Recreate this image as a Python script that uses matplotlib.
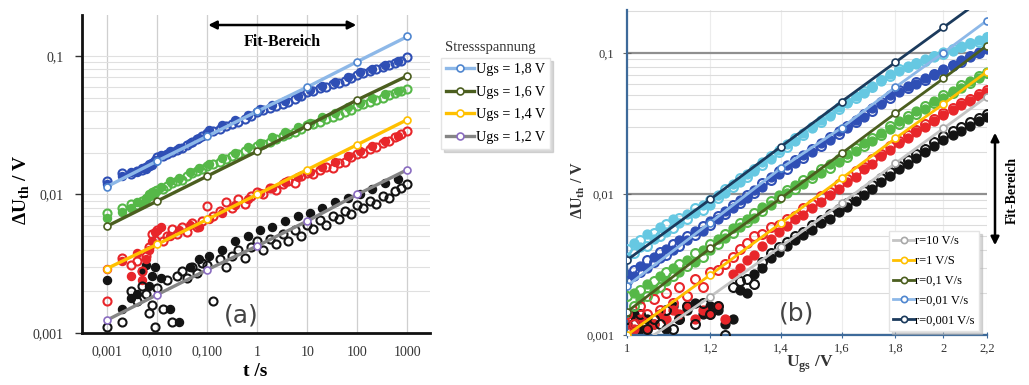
import matplotlib
matplotlib.use("Agg")
import matplotlib.pyplot as plt
from matplotlib.lines import Line2D
from matplotlib.patches import FancyArrowPatch
from matplotlib.ticker import FixedLocator, NullFormatter, LogLocator

plt.rcParams["font.family"] = ["Liberation Serif", "DejaVu Serif"]
plt.rcParams["mathtext.fontset"] = "custom"
plt.rcParams["mathtext.rm"] = "Liberation Serif"
plt.rcParams["mathtext.bf"] = "Liberation Serif:bold"

# ---------------- panel (a): dU_th vs stress time ----------------
T_FIT = [0.001, 0.01, 0.1, 1, 10, 100, 1000]
FIT_A = {
    "1,8": [0.0114, 0.0174, 0.0263, 0.0398, 0.0596, 0.091, 0.138],
    "1,6": [0.0059, 0.00895, 0.01355, 0.0205, 0.0313, 0.0482, 0.0718],
    "1,4": [0.00292, 0.00436, 0.0066, 0.0100, 0.0151, 0.0229, 0.0347],
    "1,2": [0.00124, 0.00189, 0.00286, 0.00425, 0.00643, 0.0100, 0.0151],
}

T_OPEN = [0.001, 0.002, 0.003, 0.004, 0.005, 0.006, 0.007, 0.008, 0.009,
          0.01, 0.013, 0.016, 0.02, 0.025, 0.032, 0.04, 0.05, 0.063, 0.08,
          0.1, 0.13, 0.18, 0.24, 0.32, 0.42, 0.56, 0.75,
          1, 1.3, 1.8, 2.4, 3.2, 4.2, 5.6, 7.5,
          10, 13, 18, 24, 32, 42, 56, 75,
          100, 130, 180, 240, 320, 420, 560, 750, 1000]
OPEN_18 = [0.0125, 0.0142, 0.0140, 0.0148, 0.0150, 0.0158, 0.0160, 0.0168, 0.0175,
           0.0186, 0.0190, 0.0196, 0.0203, 0.0208, 0.0215, 0.0226, 0.0238, 0.0250, 0.0262,
           0.0278, 0.0285, 0.0296, 0.0310, 0.0322, 0.0335, 0.0350, 0.0368,
           0.0395, 0.0405, 0.0418, 0.0435, 0.0452, 0.0468, 0.0488, 0.0512,
           0.0552, 0.0560, 0.0582, 0.0600, 0.0622, 0.0640, 0.0662, 0.0690,
           0.0730, 0.0752, 0.0778, 0.0800, 0.0832, 0.0858, 0.0890, 0.0925, 0.0980]
OPEN_16 = [0.0074, 0.0080, 0.0086, 0.0084, 0.0090, 0.0093, 0.0097, 0.0099, 0.0106,
           0.0108, 0.0110, 0.0116, 0.0120, 0.0125, 0.0128, 0.0136, 0.0142, 0.0148, 0.0152,
           0.0160, 0.0166, 0.0172, 0.0180, 0.0188, 0.0195, 0.0205, 0.0212,
           0.0225, 0.0232, 0.0240, 0.0250, 0.0262, 0.0272, 0.0282, 0.0296,
           0.0318, 0.0322, 0.0335, 0.0348, 0.0362, 0.0375, 0.0392, 0.0410,
           0.0432, 0.0448, 0.0465, 0.0482, 0.0500, 0.0520, 0.0540, 0.0555, 0.0575]
OPEN_14 = [0.0017, 0.0035, 0.0031, 0.0033, 0.0028, 0.0036, 0.0042, 0.0052, 0.0047,
           0.0055, 0.0046, 0.0050, 0.0056, 0.0052, 0.0058, 0.0054, 0.0062, 0.0058, 0.0064,
           0.0082, 0.0070, 0.0076, 0.0088, 0.0080, 0.0092, 0.0086, 0.0098,
           0.0104, 0.0100, 0.0112, 0.0108, 0.0118, 0.0124, 0.0120, 0.0135,
           0.0142, 0.0140, 0.0150, 0.0158, 0.0155, 0.0168, 0.0172, 0.0185,
           0.0196, 0.0200, 0.0212, 0.0220, 0.0235, 0.0245, 0.0258, 0.0272, 0.0288]
OPEN_12 = [0.0011, 0.0012, 0.0020, 0.0017, 0.0022, 0.0019, 0.0014, 0.0016, 0.0011,
           0.0021, 0.0015, 0.0024, 0.0012, 0.0026, 0.0028, 0.0025, 0.0030, 0.0027, 0.0032,
           0.0031, 0.0017, 0.0034, 0.0030, 0.0036, 0.0040, 0.0035, 0.0042,
           0.0046, 0.0040, 0.0048, 0.0044, 0.0052, 0.0046, 0.0055, 0.0050,
           0.0060, 0.0056, 0.0065, 0.0060, 0.0070, 0.0066, 0.0076, 0.0072,
           0.0084, 0.0080, 0.0090, 0.0086, 0.0098, 0.0094, 0.0106, 0.0112, 0.0118]

T_FILL = [0.001, 0.002, 0.003, 0.004, 0.005, 0.006, 0.007, 0.008, 0.009,
          0.012, 0.018, 0.028, 0.045, 0.07,
          0.11, 0.2, 0.36, 0.65, 1.15, 2, 3.6, 6.5,
          11.5, 20, 36, 65, 115, 200, 360, 650]
FILL_18 = [0.0118, 0.0135, 0.0145, 0.0144, 0.0155, 0.0152, 0.0165, 0.0163, 0.0178,
           0.0192, 0.0205, 0.0218, 0.0236, 0.0255,
           0.0292, 0.0318, 0.0345, 0.0372, 0.0412, 0.0440, 0.0475, 0.0515,
           0.0565, 0.0605, 0.0650, 0.0700, 0.0762, 0.0810, 0.0865, 0.0920]
FILL_16 = [0.0068, 0.0075, 0.0080, 0.0088, 0.0086, 0.0095, 0.0100, 0.0104, 0.0102,
           0.0114, 0.0124, 0.0132, 0.0146, 0.0156,
           0.0166, 0.0182, 0.0200, 0.0220, 0.0236, 0.0258, 0.0282, 0.0306,
           0.0330, 0.0360, 0.0390, 0.0425, 0.0460, 0.0495, 0.0530, 0.0560]
FILL_14 = [0.0029, 0.0033, 0.0026, 0.0038, 0.0024, 0.0034, 0.0040, 0.0046, 0.0054,
           0.0058, 0.0050, 0.0055, 0.0060, 0.0058,
           0.0066, 0.0074, 0.0084, 0.0092, 0.0102, 0.0112, 0.0122, 0.0134,
           0.0145, 0.0158, 0.0172, 0.0188, 0.0205, 0.0222, 0.0242, 0.0262]
FILL_12 = [0.0024, 0.0015, 0.0018, 0.0019, 0.0028, 0.0031, 0.0022, 0.0026, 0.0030,
           0.0025, 0.0015, 0.0012, 0.0030, 0.0034,
           0.0036, 0.0040, 0.0046, 0.0050, 0.0055, 0.0058, 0.0064, 0.0070,
           0.0074, 0.0080, 0.0088, 0.0094, 0.0100, 0.0110, 0.0120, 0.0130]

T_TICKS = [0.001, 0.01, 0.1, 1, 10, 100, 1000]
T_LABELS = ["0,001", "0,010", "0,100", "1", "10", "100", "1000"]
Y_TICKS = [0.001, 0.01, 0.1]
Y_LABELS = ["0,001", "0,01", "0,1"]

# ---------------- panel (b): dU_th vs ramp voltage (log-log) ----------------
U_FIT = [1.0, 1.2, 1.4, 1.6, 1.8, 2.0, 2.2]
FIT_B = {
    "10": [0.00074, 0.00187, 0.00423, 0.0086, 0.0165, 0.0292, 0.049],
    "1": [0.0010, 0.00267, 0.0062, 0.0129, 0.0248, 0.0435, 0.0738],
    "0,1": [0.00146, 0.00412, 0.0093, 0.0194, 0.0373, 0.066, 0.113],
    "0,01": [0.00223, 0.00627, 0.0152, 0.0295, 0.0572, 0.1005, 0.170],
    "0,001": [0.0034, 0.00916, 0.0216, 0.0452, 0.0859, 0.152, 0.255],
}

U_DATA = [1.00, 1.015, 1.03, 1.045, 1.06, 1.075, 1.09, 1.105, 1.12, 1.14, 1.16, 1.18, 1.20,
          1.22, 1.24, 1.26, 1.28, 1.30, 1.32, 1.345, 1.37, 1.395,
          1.42, 1.445, 1.47, 1.50, 1.53, 1.56, 1.59,
          1.62, 1.65, 1.68, 1.71, 1.745, 1.78,
          1.815, 1.85, 1.885, 1.92, 1.96, 2.00,
          2.04, 2.08, 2.12, 2.16, 2.20]
OPEN_CY = [0.0041, 0.0038, 0.0047, 0.0043, 0.0053, 0.0050, 0.0061, 0.0057, 0.0068, 0.0066, 0.0079, 0.0077, 0.0090,
           0.0093, 0.0108, 0.0112, 0.0129, 0.0132, 0.0150, 0.0160, 0.0186, 0.0198,
           0.0216, 0.0249, 0.0262, 0.0301, 0.0326, 0.0372, 0.0398,
           0.0452, 0.0480, 0.0538, 0.0570, 0.0645, 0.0690,
           0.0765, 0.0790, 0.0850, 0.0880, 0.0955, 0.0990,
           0.1065, 0.1095, 0.1175, 0.1205, 0.1290]
FILL_CY = [0.0036, 0.0045, 0.0042, 0.0052, 0.0048, 0.0058, 0.0054, 0.0066, 0.0062, 0.0072, 0.0073, 0.0084, 0.0084,
           0.0099, 0.0101, 0.0118, 0.0121, 0.0138, 0.0145, 0.0168, 0.0176, 0.0205,
           0.0226, 0.0238, 0.0272, 0.0292, 0.0335, 0.0360, 0.0412,
           0.0440, 0.0492, 0.0522, 0.0585, 0.0630, 0.0705,
           0.0750, 0.0810, 0.0835, 0.0900, 0.0930, 0.1010,
           0.1040, 0.1120, 0.1150, 0.1230, 0.1270]
OPEN_BL = [0.0024, 0.0029, 0.0028, 0.0034, 0.0033, 0.0039, 0.0037, 0.0044, 0.0043, 0.0050, 0.0051, 0.0059, 0.0060,
           0.0070, 0.0072, 0.0084, 0.0086, 0.0099, 0.0102, 0.0119, 0.0125, 0.0146,
           0.0150, 0.0174, 0.0180, 0.0208, 0.0220, 0.0252, 0.0266,
           0.0305, 0.0322, 0.0370, 0.0388, 0.0450, 0.0480,
           0.0545, 0.0565, 0.0625, 0.0648, 0.0715, 0.0752,
           0.0828, 0.0868, 0.0950, 0.0998, 0.1090]
FILL_BL = [0.0027, 0.0026, 0.0031, 0.0030, 0.0036, 0.0035, 0.0041, 0.0040, 0.0047, 0.0047, 0.0055, 0.0055, 0.0064,
           0.0066, 0.0076, 0.0079, 0.0090, 0.0094, 0.0106, 0.0112, 0.0131, 0.0138,
           0.0160, 0.0165, 0.0190, 0.0199, 0.0230, 0.0242, 0.0278,
           0.0293, 0.0336, 0.0354, 0.0405, 0.0434, 0.0500,
           0.0528, 0.0585, 0.0604, 0.0668, 0.0698, 0.0770,
           0.0808, 0.0888, 0.0930, 0.1020, 0.1070]
OPEN_GR = [0.0019, 0.0016, 0.0021, 0.0019, 0.0024, 0.0022, 0.0028, 0.0026, 0.0032, 0.0031, 0.0038, 0.0036, 0.0044,
           0.0044, 0.0052, 0.0053, 0.0062, 0.0063, 0.0073, 0.0076, 0.0089, 0.0093,
           0.0107, 0.0109, 0.0125, 0.0129, 0.0150, 0.0154, 0.0178,
           0.0183, 0.0212, 0.0218, 0.0250, 0.0262, 0.0302,
           0.0313, 0.0358, 0.0370, 0.0420, 0.0440, 0.0502,
           0.0522, 0.0590, 0.0612, 0.0690, 0.0725]
FILL_GR = [0.0014, 0.0020, 0.0018, 0.0023, 0.0021, 0.0026, 0.0024, 0.0030, 0.0028, 0.0034, 0.0033, 0.0040, 0.0040,
           0.0048, 0.0049, 0.0057, 0.0058, 0.0067, 0.0068, 0.0081, 0.0084, 0.0098,
           0.0101, 0.0116, 0.0118, 0.0137, 0.0142, 0.0163, 0.0169,
           0.0193, 0.0201, 0.0230, 0.0238, 0.0273, 0.0288,
           0.0328, 0.0342, 0.0386, 0.0402, 0.0456, 0.0482,
           0.0540, 0.0568, 0.0636, 0.0665, 0.0738]
OPEN_RD = [0.0014, 0.0012, 0.0016, 0.0014, 0.0018, 0.0015, 0.0020, 0.0017, 0.0022, 0.0019, 0.0025, 0.0022, 0.0028,
           0.0029, 0.0032, 0.0036, 0.0041, 0.0045, 0.0050, 0.0052, 0.0058, 0.0060,
           0.0066, 0.0070, 0.0079, 0.0085, 0.0097, 0.0104, 0.0118,
           0.0128, 0.0145, 0.0156, 0.0176, 0.0192, 0.0218,
           0.0238, 0.0264, 0.0284, 0.0314, 0.0340, 0.0378,
           0.0405, 0.0442, 0.0470, 0.0512, 0.0545]
FILL_RD = [0.0012, 0.0011, 0.0013, 0.0011, 0.0012, 0.0014, 0.0013, 0.0015, 0.0014, 0.0016, 0.0013, 0.0015, 0.0014,
           0.0016, 0.0013, 0.0027, 0.0030, 0.0034, 0.0037, 0.0043, 0.0048, 0.0054,
           0.0059, 0.0066, 0.0071, 0.0080, 0.0088, 0.0099, 0.0108,
           0.0121, 0.0133, 0.0150, 0.0163, 0.0185, 0.0205,
           0.0229, 0.0249, 0.0274, 0.0298, 0.0330, 0.0362,
           0.0392, 0.0425, 0.0460, 0.0492, 0.0532]
OPEN_BK = [0.0013, 0.0012, 0.0014, 0.0011, 0.0013, 0.0012, 0.0015, 0.0011, 0.0013, 0.0016, 0.0012, 0.0017, 0.0014,
           0.0016, 0.0010, 0.0022, 0.0024, 0.0025, 0.0023, 0.0033, 0.0038, 0.0042,
           0.0046, 0.0050, 0.0054, 0.0060, 0.0065, 0.0072, 0.0078,
           0.0086, 0.0096, 0.0105, 0.0116, 0.0129, 0.0144,
           0.0159, 0.0175, 0.0192, 0.0210, 0.0232, 0.0258,
           0.0278, 0.0298, 0.0322, 0.0345, 0.0370]
FILL_BK = [0.0012, 0.0014, 0.0011, 0.0013, 0.0012, 0.0014, 0.0011, 0.0016, 0.0013, 0.0015, 0.0017, 0.0014, 0.0016,
           0.0015, 0.0012, 0.0013, 0.0021, 0.0020, 0.0027, 0.0030, 0.0035, 0.0039,
           0.0043, 0.0047, 0.0051, 0.0056, 0.0062, 0.0067, 0.0074,
           0.0081, 0.0089, 0.0098, 0.0108, 0.0121, 0.0135,
           0.0150, 0.0164, 0.0180, 0.0198, 0.0220, 0.0243,
           0.0262, 0.0282, 0.0304, 0.0328, 0.0352]

U_TICKS = [1.0, 1.2, 1.4, 1.6, 1.8, 2.0, 2.2]
U_LABELS = ["1", "1,2", "1,4", "1,6", "1,8", "2", "2,2"]

# colours
C_BLUE, C_LBLUE = "#2f4fb5", "#8db8e8"
C_GREEN, C_OLIVE = "#56b848", "#4b5e1f"
C_RED, C_YEL = "#e8262a", "#ffc000"
C_BLK, C_GRAY, C_PURP = "#141414", "#858585", "#8a6cc0"
C_CYAN, C_NAVY, C_LGRAY = "#66c8e2", "#1b3a5c", "#c4c4c4"
C_SPINE = "#3d6a9a"


def open_pts(ax, x, y, c, ms=5.8):
    ax.plot(x, y, "o", ms=ms, mfc="none", mec=c, mew=1.5, zorder=3)


def fill_pts(ax, x, y, c, ms=5.8):
    ax.plot(x, y, "o", ms=ms, color=c, mec=c, zorder=2)


def fit_line(ax, x, y, c, mec, lw=2.4):
    ax.plot(x, y, "-o", color=c, lw=lw, ms=5, mfc="white", mec=mec, mew=1.2, zorder=5)


fig = plt.figure(figsize=(10.29, 3.85), dpi=100)

# ================= panel (a) =================
ax = fig.add_axes([82 / 1029, 1 - 333 / 385, 348 / 1029, 318 / 385])
ax.set_xscale("log")
ax.set_yscale("log")
ax.set_xlim(10 ** -3.5, 10 ** 3.45)
ax.set_ylim(0.001, 10 ** -0.705)

fill_pts(ax, T_FILL, FILL_12, C_BLK)
open_pts(ax, T_OPEN, OPEN_12, C_BLK)
fill_pts(ax, T_FILL, FILL_14, C_RED)
open_pts(ax, T_OPEN, OPEN_14, C_RED)
fill_pts(ax, T_FILL, FILL_16, C_GREEN)
open_pts(ax, T_OPEN, OPEN_16, C_GREEN)
fill_pts(ax, T_FILL, FILL_18, C_BLUE)
open_pts(ax, T_OPEN, OPEN_18, C_BLUE)

fit_line(ax, T_FIT, FIT_A["1,8"], C_LBLUE, "#4f86cf")
fit_line(ax, T_FIT, FIT_A["1,6"], C_OLIVE, C_OLIVE)
fit_line(ax, T_FIT, FIT_A["1,4"], C_YEL, C_YEL)
fit_line(ax, T_FIT, FIT_A["1,2"], C_GRAY, C_PURP)

ax.xaxis.set_major_locator(FixedLocator(T_TICKS))
ax.set_xticklabels(T_LABELS)
ax.xaxis.set_minor_locator(FixedLocator([]))
ax.yaxis.set_major_locator(FixedLocator(Y_TICKS))
ax.set_yticklabels(Y_LABELS)
ax.yaxis.set_minor_locator(LogLocator(base=10, subs=range(2, 10)))
ax.yaxis.set_minor_formatter(NullFormatter())
ax.tick_params(axis="x", length=0, labelsize=10, pad=9, colors="#333333")
ax.tick_params(axis="y", which="major", length=5, width=1, labelsize=10, pad=8, colors="#333333")
ax.tick_params(axis="y", which="minor", length=0)
ax.grid(True, which="major", axis="x", color="#cfcfcf", lw=0.9)
ax.grid(True, which="both", axis="y", color="#e0e0e0", lw=0.8)
for s in ("top", "right"):
    ax.spines[s].set_visible(False)
for s in ("left", "bottom"):
    ax.spines[s].set_linewidth(2)
    ax.spines[s].set_color("#111111")

ax.annotate("", xy=(95, 0.167), xytext=(0.105, 0.167),
            arrowprops=dict(arrowstyle="<|-|>", color="black", lw=1.8,
                            mutation_scale=12, shrinkA=0, shrinkB=0))
ax.text(3.1, 0.126, "Fit-Bereich", ha="center", va="center", fontsize=11.5, fontweight="bold")
fig.text(241 / 1029, 1 - 315 / 385, "(a)", ha="center", va="center", fontsize=18,
         family=["DejaVu Sans"], color="#444444")

fig.text(255 / 1029, 1 - 371 / 385, "t /s", ha="center", va="center",
         fontsize=14, fontweight="bold")
fig.text(22 / 1029, 1 - 190 / 385, "ΔU$_{\\mathbf{th}}$ / V", ha="center", va="center",
         rotation=90, fontsize=14, fontweight="bold")

leg_a = [Line2D([], [], color=c, lw=2.4, marker="o", ms=5, mfc="white", mec=m, mew=1.2)
         for c, m in [(C_LBLUE, "#4f86cf"), (C_OLIVE, C_OLIVE), (C_YEL, C_YEL), (C_GRAY, C_PURP)]]
lab_a = ["Ugs = %s V" % k for k in FIT_A]
fig.legend(leg_a, lab_a, loc="upper left", bbox_to_anchor=(441 / 1029, 1 - 58 / 385),
           fontsize=10.2, frameon=True, fancybox=False, edgecolor="#e4e4e4",
           borderpad=0.35, labelspacing=0.68, handlelength=2.0, handletextpad=0.1,
           borderaxespad=0, shadow={"color": "0.7", "alpha": 0.5})
fig.text(445 / 1029, 1 - 48 / 385, "Stressspannung", ha="left", va="center", fontsize=10.5,
         color="#333333")

# ================= panel (b) =================
bx = fig.add_axes([627 / 1029, 1 - 335 / 385, 360 / 1029, 325 / 385])
bx.set_xscale("log")
bx.set_yscale("log")
bx.set_xlim(1.0, 2.2)
bx.set_ylim(0.001, 10 ** -0.695)

for fl, op, c in [(FILL_BK, OPEN_BK, C_BLK), (FILL_RD, OPEN_RD, C_RED),
                  (FILL_GR, OPEN_GR, C_GREEN), (FILL_BL, OPEN_BL, C_BLUE),
                  (FILL_CY, OPEN_CY, C_CYAN)]:
    fill_pts(bx, U_DATA, fl, c, ms=6.4)
    open_pts(bx, U_DATA, op, c, ms=6.4)

B_STYLE = {"10": (C_LGRAY, "#a8a8a8"), "1": (C_YEL, C_YEL), "0,1": (C_OLIVE, C_OLIVE),
           "0,01": (C_LBLUE, "#4f86cf"), "0,001": (C_NAVY, C_NAVY)}
for k, vals in FIT_B.items():
    c, m = B_STYLE[k]
    fit_line(bx, U_FIT, vals, c, m, lw=2.0)

bx.xaxis.set_major_locator(FixedLocator(U_TICKS))
bx.set_xticklabels(U_LABELS)
bx.xaxis.set_minor_locator(FixedLocator([]))
bx.yaxis.set_major_locator(FixedLocator(Y_TICKS))
bx.set_yticklabels(Y_LABELS)
bx.yaxis.set_minor_locator(LogLocator(base=10, subs=range(2, 10)))
bx.yaxis.set_minor_formatter(NullFormatter())
bx.tick_params(axis="x", direction="inout", length=5, color=C_SPINE, labelsize=9,
               pad=3, labelcolor="#333333")
bx.tick_params(axis="y", which="major", direction="inout", length=6, color="#666666",
               labelsize=9, pad=6, labelcolor="#333333")
bx.tick_params(axis="y", which="minor", length=0)
bx.grid(True, which="major", axis="y", color="#8f8f8f", lw=1.6)
bx.grid(True, which="minor", axis="y", color="#dcdcdc", lw=0.8)
bx.grid(True, which="major", axis="x", color="#ececec", lw=0.8)
bx.set_axisbelow(True)
for s in ("top", "right"):
    bx.spines[s].set_visible(False)
for s in ("left", "bottom"):
    bx.spines[s].set_linewidth(1.6)
    bx.spines[s].set_color(C_SPINE)

fig.text(797 / 1029, 1 - 313 / 385, "(b)", ha="center", va="center", fontsize=18,
         family=["DejaVu Sans"], color="#444444")
fig.text(810 / 1029, 1 - 364 / 385, "U$_{\\mathbf{gs}}$ /V", ha="center", va="center",
         fontsize=12.5, fontweight="bold", color="#333333")
fig.text(578 / 1029, 1 - 190 / 385, "ΔU$_{\\mathbf{th}}$ / V", ha="center", va="center",
         rotation=90, fontsize=11.5, fontweight="bold", color="#333333")

leg_b = [Line2D([], [], color=B_STYLE[k][0], lw=2.0, marker="o", ms=4.5, mfc="white",
                mec=B_STYLE[k][1], mew=1.2) for k in FIT_B]
lab_b = ["r=%s V/%s" % (k, "S" if k == "1" else "s") for k in FIT_B]
fig.legend(leg_b, lab_b, loc="upper left", bbox_to_anchor=(889 / 1029, 1 - 231 / 385),
           fontsize=9, frameon=True, fancybox=False, edgecolor="#e4e4e4", framealpha=1,
           borderpad=0.35, labelspacing=0.62, handlelength=1.7, handletextpad=0.05,
           borderaxespad=0, shadow={"color": "0.7", "alpha": 0.5})

fig.add_artist(FancyArrowPatch(
    (995 / 1029, 1 - 130 / 385), (995 / 1029, 1 - 248 / 385), transform=fig.transFigure,
    arrowstyle="<|-|>", mutation_scale=12, color="black", lw=1.8))
fig.text(1012 / 1029, 1 - 190 / 385, "Fit-Bereich", ha="center", va="center",
         rotation=90, fontsize=10, fontweight="bold")

fig.savefig("out.png", dpi=100)
